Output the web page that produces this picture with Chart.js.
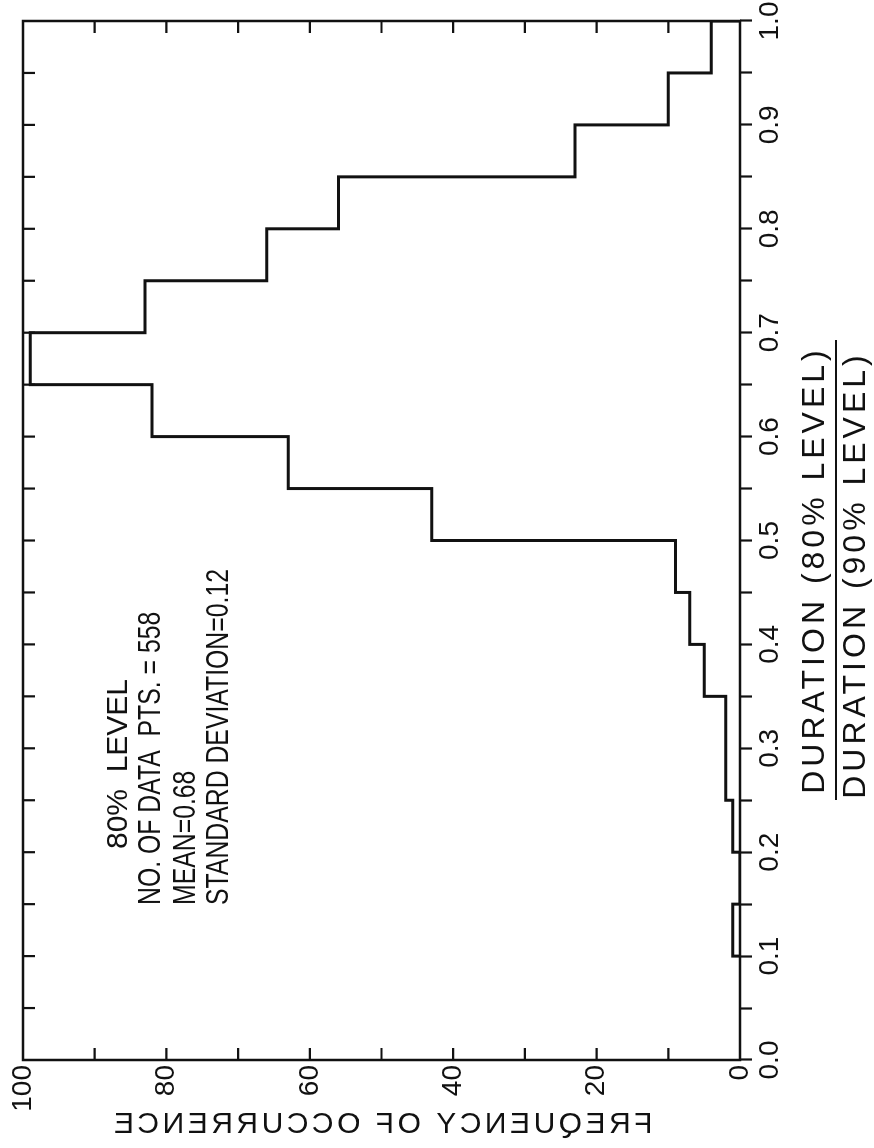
<!DOCTYPE html>
<html>
<head>
<meta charset="utf-8">
<script src="https://cdn.jsdelivr.net/npm/chart.js@4.4.1/dist/chart.umd.min.js"></script>
<style>
  html, body { margin: 0; padding: 0; background: #fff; overflow: hidden; }
  /* the figure is laid out landscape and turned on its side */
  #wrap {
    position: absolute; left: 0; top: 0;
    width: 1148px; height: 874px;
    transform-origin: 0 0;
    transform: translateY(1148px) rotate(-90deg);
  }
</style>
</head>
<body>
<div id="wrap"><canvas id="histChart" width="1148" height="874"></canvas></div>
<script>
// duration ratio bins, 0.05 wide (left edges) and their counts
var binStarts = [0.10, 0.15, 0.20, 0.25, 0.30, 0.35, 0.40, 0.45, 0.50,
                 0.55, 0.60, 0.65, 0.70, 0.75, 0.80, 0.85, 0.90, 0.95];
var counts    = [1, 0, 1, 2, 2, 5, 7, 9, 43,
                 63, 82, 99, 83, 66, 56, 23, 10, 4];
var binWidth = 0.05;

var ratioLabels = ["0.0", "0.1", "0.2", "0.3", "0.4", "0.5", "0.6", "0.7", "0.8", "0.9", "1.0"];
var freqLabels  = ["0", "20", "40", "60", "80", "100"];

var levelLine = "80%  LEVEL";
var statLines = ["NO. OF DATA  PTS. = 558", "MEAN=0.68", "STANDARD DEVIATION=0.12"];

var ink = '#111';
var sans = '"Liberation Sans", Arial, sans-serif';

// outline of the histogram as a stepped line
var outline = [{x: binStarts[0], y: 0}];
binStarts.forEach(function (b, i) {
  outline.push({x: b, y: counts[i]});
});
outline.push({x: binStarts[binStarts.length - 1] + binWidth, y: 0});

// narrow lettering for the stats block
function squeezedText(ctx, text, x, y, sx) {
  ctx.save();
  ctx.translate(x, y);
  ctx.scale(sx, 1);
  ctx.fillText(text, 0, 0);
  ctx.restore();
}

var framePlugin = {
  id: 'frameAndNotes',
  afterDraw: function (chart) {
    var ctx = chart.ctx;
    var a = chart.chartArea;
    var x = chart.scales.x;
    var y = chart.scales.y;

    ctx.save();
    ctx.strokeStyle = ink;
    ctx.lineWidth = 2.5;
    ctx.strokeRect(a.left, a.top, a.right - a.left, a.bottom - a.top);

    // inward ticks on the other three sides
    ctx.lineWidth = 2.2;
    ctx.beginPath();
    x.ticks.forEach(function (t) {
      if (t.value > 0.001 && t.value < 0.999) {
        var px = x.getPixelForValue(t.value);
        ctx.moveTo(px, a.top);
        ctx.lineTo(px, a.top + 12);
      }
    });
    y.ticks.forEach(function (t) {
      if (t.value > 0 && t.value < 100) {
        var py = y.getPixelForValue(t.value);
        ctx.moveTo(a.left, py);
        ctx.lineTo(a.left + 12, py);
        ctx.moveTo(a.right, py);
        ctx.lineTo(a.right - 12, py);
      }
    });
    ctx.stroke();

    ctx.fillStyle = ink;
    ctx.textBaseline = 'middle';

    // stats block
    ctx.font = '30px ' + sans;
    ctx.textAlign = 'center';
    ctx.fillText(levelLine, a.left + 296, a.top + 96);
    ctx.font = '31px ' + sans;
    ctx.textAlign = 'left';
    squeezedText(ctx, statLines[0], a.left + 155, a.top + 128, 0.8);
    squeezedText(ctx, statLines[1], a.left + 155, a.top + 163, 0.8);
    squeezedText(ctx, statLines[2], a.left + 155, a.top + 196, 0.8);

    // x title as a fraction
    ctx.font = '32px ' + sans;
    ctx.letterSpacing = '4px';
    ctx.textAlign = 'center';
    ctx.fillText('DURATION (80% LEVEL)', 578, 815);
    ctx.fillText('DURATION (90% LEVEL)', 573, 856);
    ctx.lineWidth = 2;
    ctx.beginPath();
    ctx.moveTo(348, 836);
    ctx.lineTo(808, 836);
    ctx.stroke();

    // y title, lettered mirror-wise
    ctx.save();
    ctx.translate(23, (a.top + a.bottom) / 2);
    ctx.rotate(Math.PI / 2);
    ctx.scale(-1, 1);
    ctx.font = '30px ' + sans;
    ctx.letterSpacing = '3.5px';
    ctx.fillText('FREQUENCY OF OCCURRENCE', 0, 0);
    ctx.restore();

    ctx.restore();
  }
};

var ctx = document.getElementById('histChart');
var histChart = new Chart(ctx, {
  type: 'line',
  data: {
    datasets: [{
      data: outline,
      stepped: true,
      borderColor: ink,
      borderWidth: 3,
      borderJoinStyle: 'miter',
      pointRadius: 0,
      fill: false
    }]
  },
  options: {
    responsive: false,
    animation: false,
    layout: { padding: { top: 23, right: 21, left: 0, bottom: 0 } },
    plugins: { legend: { display: false }, tooltip: { enabled: false } },
    scales: {
      x: {
        type: 'linear',
        min: 0,
        max: 1,
        border: { display: false },
        grid: { drawOnChartArea: false, tickLength: 12, tickWidth: 2.2, tickColor: ink },
        ticks: {
          stepSize: 0.05,
          autoSkip: false,
          maxRotation: 0,
          padding: 1,
          color: ink,
          font: { family: sans, size: 28 },
          callback: function (v) {
            var k = Math.round(v * 20);
            return k % 2 === 0 ? ratioLabels[k / 2] : '';
          }
        },
        afterFit: function (s) { s.height = 134; s.paddingLeft = 0; s.paddingRight = 0; }
      },
      y: {
        type: 'linear',
        min: 0,
        max: 100,
        border: { display: false },
        grid: { display: false, drawTicks: false },
        ticks: {
          stepSize: 10,
          padding: 5,
          color: ink,
          font: { family: sans, size: 28 },
          callback: function (v) {
            return v % 20 === 0 ? freqLabels[v / 20] : '';
          }
        },
        afterFit: function (s) { s.width = 88; s.paddingTop = 0; s.paddingBottom = 0; }
      }
    }
  },
  plugins: [framePlugin]
});
</script>
</body>
</html>
